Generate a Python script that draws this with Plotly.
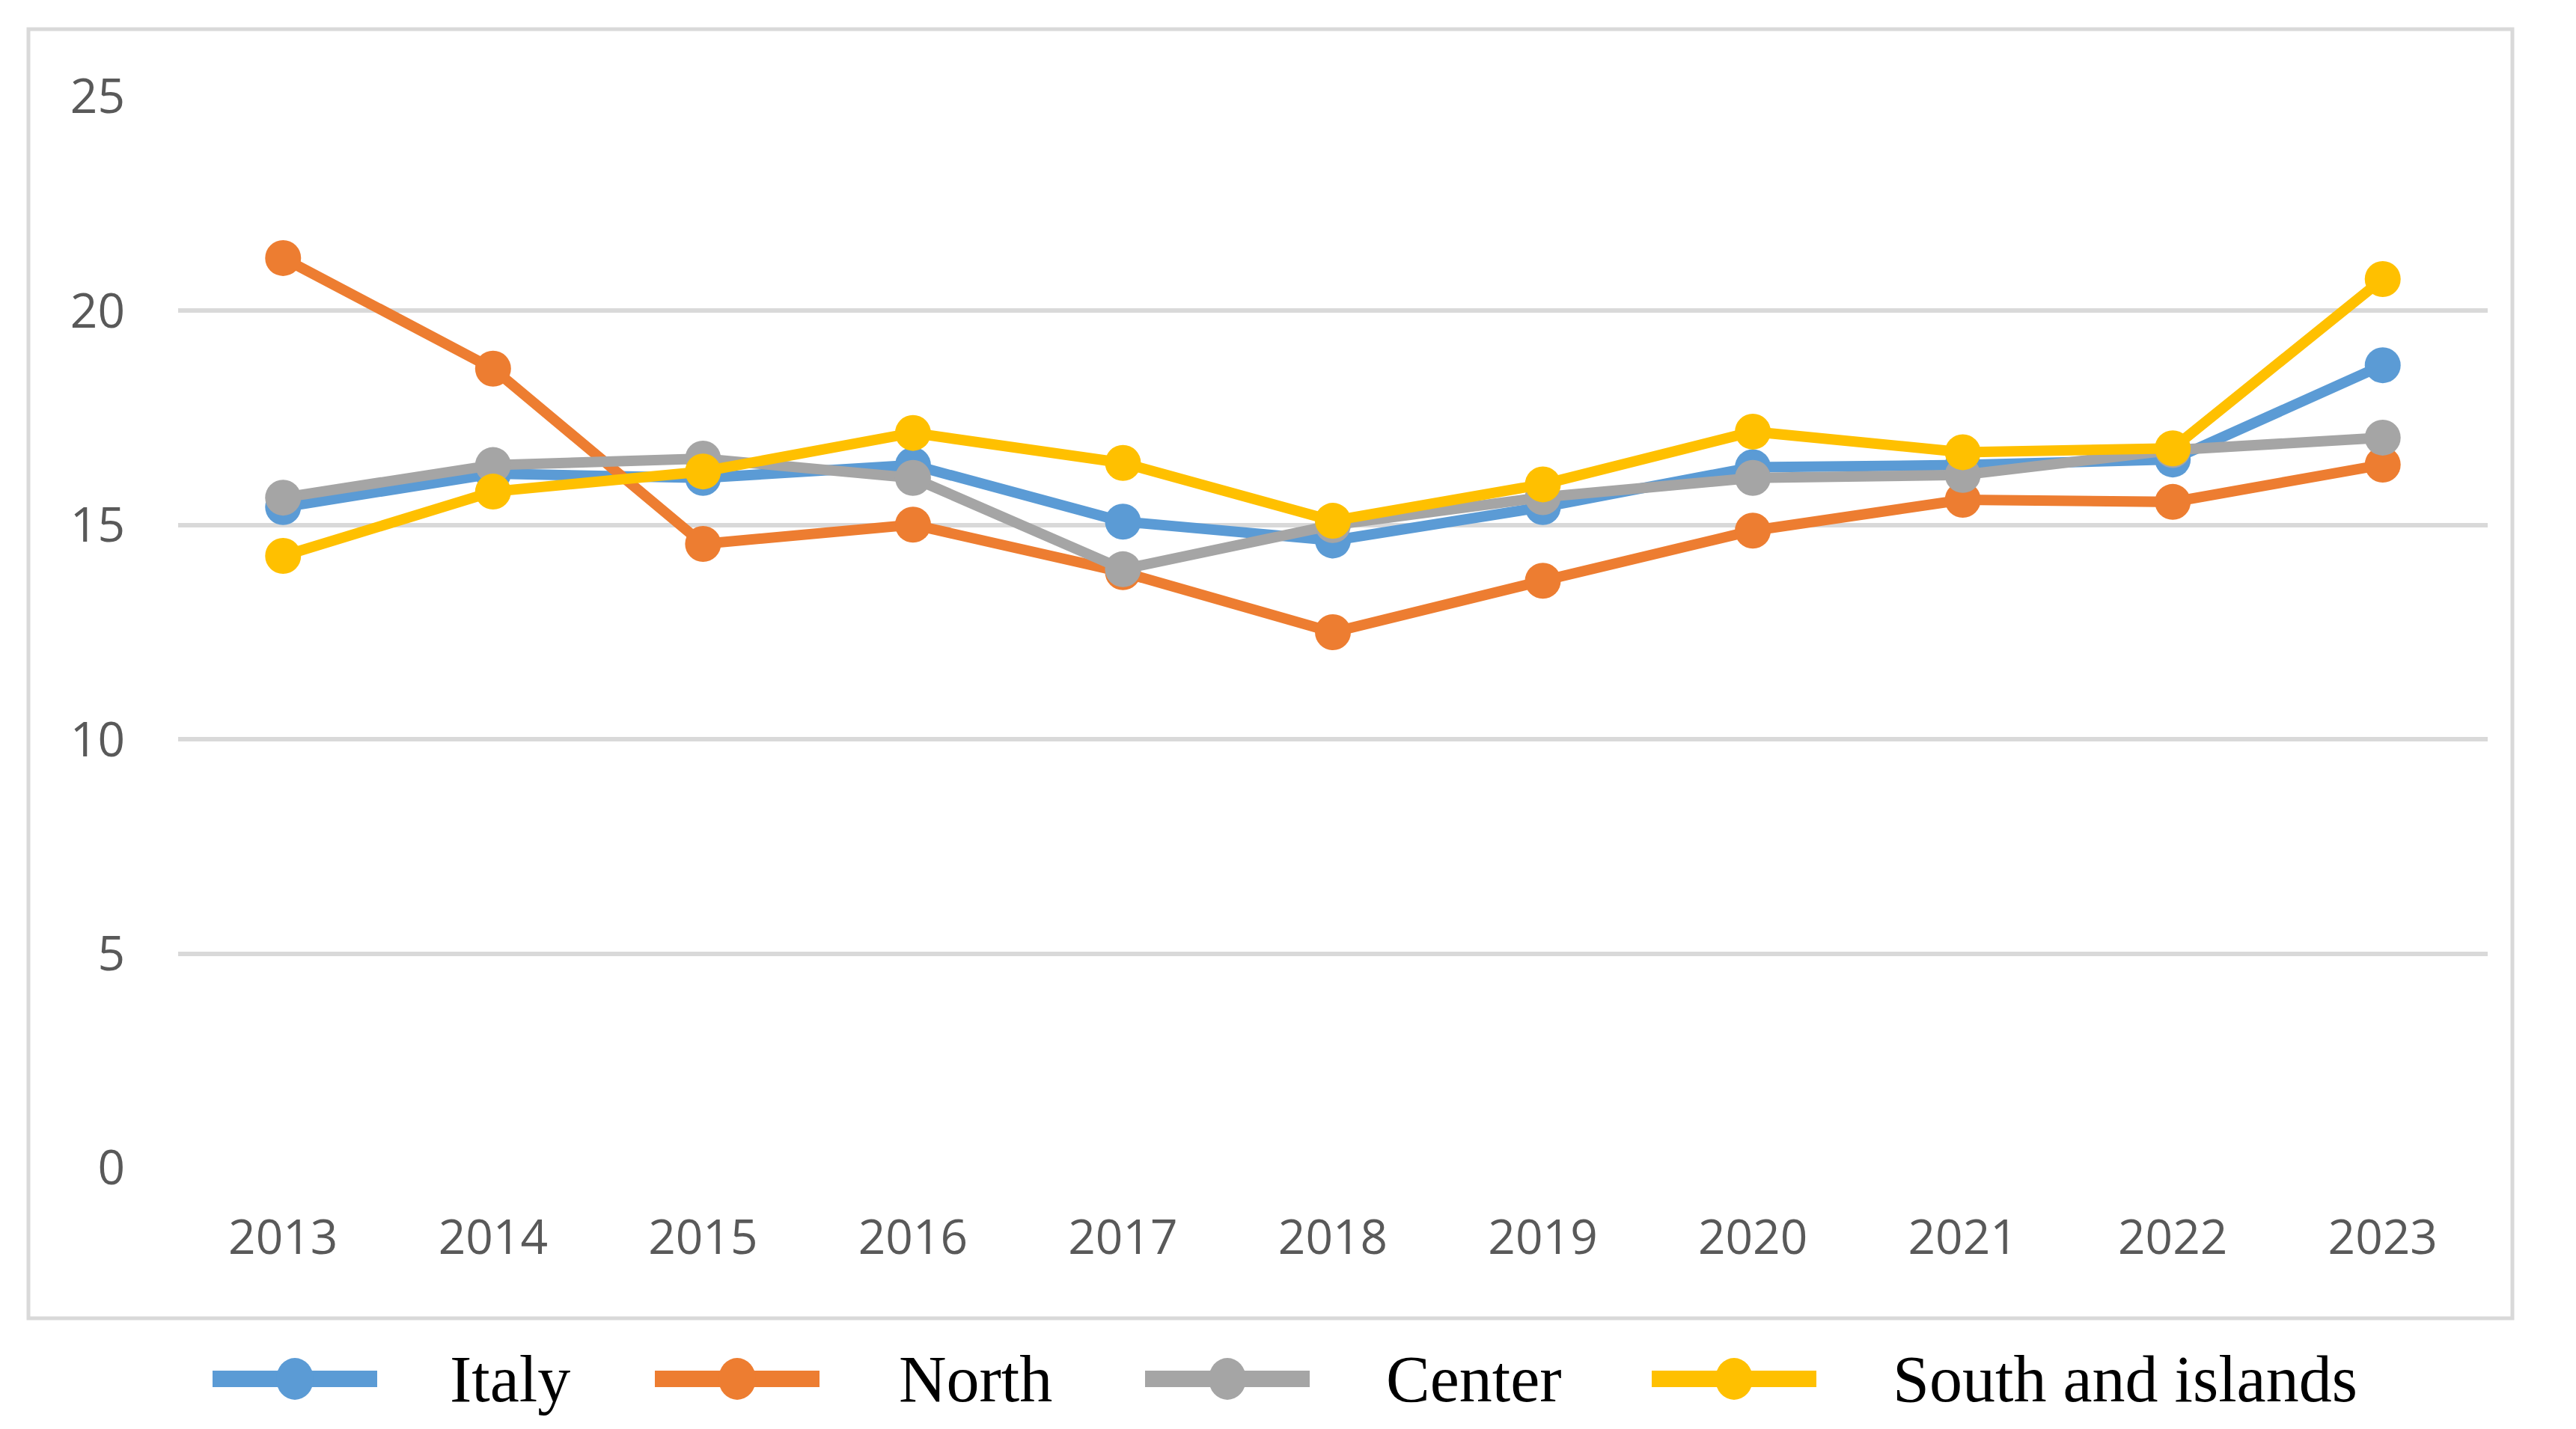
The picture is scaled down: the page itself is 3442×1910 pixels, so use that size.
import plotly.graph_objects as go

years = ["2013", "2014", "2015", "2016", "2017", "2018", "2019", "2020", "2021", "2022", "2023"]
italy = [15.42, 16.2, 16.1, 16.4, 15.08, 14.64, 15.42, 16.35, 16.4, 16.53, 18.73]
north = [21.23, 18.65, 14.56, 15.01, 13.9, 12.5, 13.7, 14.87, 15.59, 15.54, 16.41]
center = [15.64, 16.4, 16.55, 16.1, 13.97, 15.0, 15.65, 16.1, 16.17, 16.75, 17.04]
south = [14.28, 15.78, 16.25, 17.15, 16.45, 15.1, 15.95, 17.18, 16.7, 16.79, 20.74]

names = ["Italy", "North", "Center", "South and islands"]
series = [italy, north, center, south]
colors = ["#5B9BD5", "#ED7D31", "#A5A5A5", "#FFC000"]

W, H = 3442, 1910
ML, MR, MT, MB = 230, 126, 121, 357
PW = W - ML - MR
PH = H - MT - MB

fig = go.Figure()
for name, vals, col in zip(names, series, colors):
    fig.add_trace(go.Scatter(
        x=years, y=vals, name=name, mode="lines+markers",
        line=dict(color=col, width=14),
        marker=dict(color=col, size=48),
        showlegend=False,
    ))

def px_x(px):
    return (px - ML) / PW

def px_y(py):
    return (H - MB - py) / PH

shapes = []
annotations = []
# outer border
shapes.append(dict(type="rect", xref="paper", yref="paper",
                   x0=px_x(30), x1=px_x(3349), y0=px_y(1754), y1=px_y(31),
                   line=dict(color="#D9D9D9", width=5), fillcolor="rgba(0,0,0,0)", layer="below"))

# custom legend
leg_y = px_y(1835)
line_starts = [276, 867, 1522, 2199]
text_starts = [591, 1191, 1842, 2519]
for name, col, ls, ts in zip(names, colors, line_starts, text_starts):
    shapes.append(dict(type="line", xref="paper", yref="paper",
                       x0=px_x(ls), x1=px_x(ls + 220), y0=leg_y, y1=leg_y,
                       line=dict(color=col, width=22)))
    shapes.append(dict(type="circle", xref="paper", yref="paper",
                       xsizemode="pixel", ysizemode="pixel",
                       xanchor=px_x(ls + 110), yanchor=leg_y,
                       x0=-25, x1=25, y0=-28, y1=28,
                       fillcolor=col, line=dict(color=col, width=0)))
    annotations.append(dict(xref="paper", yref="paper", x=px_x(ts), y=leg_y,
                            xanchor="left", yanchor="middle", showarrow=False,
                            text=name,
                            font=dict(family="Liberation Serif, DejaVu Serif, serif", size=88, color="#000000")))

fig.update_layout(
    width=W, height=H,
    margin=dict(l=ML, r=MR, t=MT, b=MB),
    paper_bgcolor="white", plot_bgcolor="white",
    shapes=shapes, annotations=annotations,
    xaxis=dict(type="category", range=[-0.5, 10.5], showgrid=False, zeroline=False,
               showline=False, ticks="", ticklabelstandoff=50,
               tickfont=dict(family="Liberation Sans Narrow, Open Sans, sans-serif", size=64, color="#595959")),
    yaxis=dict(range=[0, 25], tickvals=[0, 5, 10, 15, 20, 25], showgrid=True,
               gridcolor="#D9D9D9", gridwidth=6, zeroline=False, showline=False,
               ticks="", ticklabelstandoff=70,
               tickfont=dict(family="Liberation Sans Narrow, Open Sans, sans-serif", size=64, color="#595959")),
)

fig.write_html("out.html")
